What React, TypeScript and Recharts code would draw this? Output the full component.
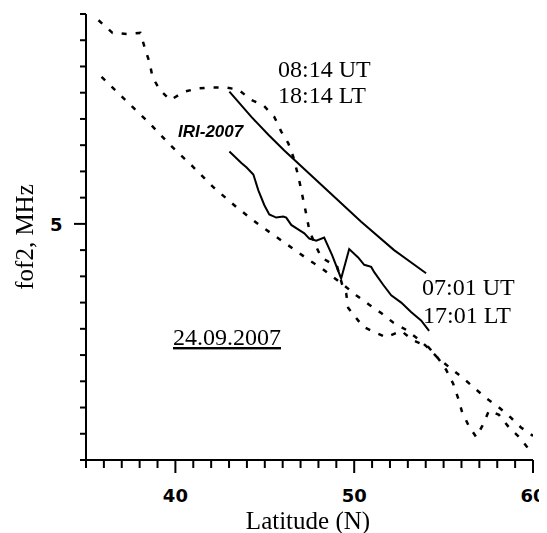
import React from 'react';
import { LineChart, Line, XAxis, YAxis } from 'recharts';

// latitude (deg N) / foF2 (MHz) profiles
const dashedUpperLat = [35.7, 36.48, 37.32, 38.04, 38.32, 38.55, 38.72, 39.11, 39.72, 40.5, 41.23, 42.07, 42.79, 43.52, 44.25, 44.92, 45.53, 45.92, 46.31, 46.59, 46.82, 46.98, 47.15, 47.32, 47.49, 47.77, 48.16, 49.05, 49.33, 49.55, 49.66, 50.5, 51.12, 51.79, 52.63, 53.3, 54.13, 54.69, 55.14, 55.53, 55.81, 56.03, 56.42, 56.82, 57.15, 57.54, 58.1, 58.66, 59.22, 59.83];
const dashedUpperFof2 = [6.94, 6.82, 6.81, 6.82, 6.66, 6.54, 6.4, 6.28, 6.18, 6.26, 6.29, 6.3, 6.3, 6.28, 6.18, 6.13, 6.02, 5.88, 5.77, 5.64, 5.49, 5.37, 5.23, 5.09, 4.94, 4.82, 4.68, 4.59, 4.42, 4.34, 4.2, 4.02, 3.97, 3.92, 3.98, 3.89, 3.83, 3.72, 3.61, 3.48, 3.34, 3.21, 3.07, 2.97, 3.07, 3.22, 3.18, 3.06, 2.97, 2.84];

const dashedLowerLat = [35.87, 37.32, 38.55, 39.72, 40.95, 42.12, 43.41, 44.69, 46.03, 47.43, 48.16, 49.39, 50.11, 50.84, 51.51, 52.18, 52.91, 53.52, 54.13, 54.69, 55.42, 56.09, 56.7, 57.37, 58.04, 58.72, 59.33, 60.0];
const dashedLowerFof2 = [6.4, 6.16, 5.96, 5.75, 5.55, 5.35, 5.16, 4.99, 4.83, 4.66, 4.58, 4.42, 4.32, 4.23, 4.15, 4.06, 3.99, 3.91, 3.82, 3.72, 3.62, 3.53, 3.44, 3.34, 3.26, 3.16, 3.06, 2.98];

const iriLat = [43.02, 44.25, 45.2, 46.09, 47.04, 48.55, 50.39, 52.23, 54.02];
const iriFof2 = [6.26, 6.02, 5.85, 5.7, 5.55, 5.31, 5.02, 4.75, 4.53];

const solidLowerLat = [43.02, 43.69, 43.97, 44.36, 44.64, 44.97, 45.25, 45.64, 46.03, 46.2, 46.48, 46.93, 47.21, 47.49, 47.88, 48.32, 48.77, 49.27, 49.72, 50.22, 50.56, 50.95, 51.12, 51.62, 52.07, 52.63, 53.18, 53.74, 54.19];
const solidLowerFof2 = [5.69, 5.58, 5.54, 5.47, 5.32, 5.18, 5.09, 5.06, 5.07, 5.06, 4.99, 4.94, 4.91, 4.86, 4.84, 4.87, 4.7, 4.48, 4.76, 4.68, 4.61, 4.59, 4.54, 4.42, 4.32, 4.25, 4.16, 4.08, 3.98];

const xTicks = [35, 36, 37, 38, 39, 40, 41, 42, 43, 44, 45, 46, 47, 48, 49, 50, 51, 52, 53, 54, 55, 56, 57, 58, 59, 60];
const xLabelled = [40, 50, 60];
const yTicks = [2.75, 3, 3.25, 3.5, 3.75, 4, 4.25, 4.5, 4.75, 5, 5.25, 5.5, 5.75, 6, 6.25, 6.5, 6.75, 7];
const yLabelled = [5];

const zip = (lat: number[], f: number[]) => lat.map((v, i) => ({ lat: v, f: f[i] }));

const W = 539;
const H = 517;
const SERIF = '"Liberation Serif", "Times New Roman", serif';
const SANS = '"DejaVu Sans", Arial, sans-serif';

const XTick = (props: any) => {
  const { x, y, payload } = props;
  const major = xLabelled.includes(payload.value);
  return (
    <g>
      <line x1={x} x2={x} y1={y} y2={y + (major ? 13 : 8)} stroke="#000" strokeWidth={2} />
      {major && (
        <text x={x} y={y + 42} textAnchor="middle" fontFamily={SANS} fontWeight="bold" fontSize={18} fill="#000">
          {payload.value}
        </text>
      )}
    </g>
  );
};

const YTick = (props: any) => {
  const { x, y, payload } = props;
  const major = yLabelled.includes(payload.value);
  return (
    <g>
      <line x1={x} x2={x - (major ? 12 : 6)} y1={y} y2={y} stroke="#000" strokeWidth={2} />
      {major && (
        <text x={x - 23.5} y={y + 7} textAnchor="end" fontFamily={SANS} fontWeight="bold" fontSize={18} fill="#000">
          {payload.value}
        </text>
      )}
    </g>
  );
};

const dashed = { stroke: '#000', strokeWidth: 2.5, strokeDasharray: '5 9' };
const solid = { stroke: '#000', strokeWidth: 2 };

export default function App() {
  return (
    <div style={{ width: W, height: H }}>
      <LineChart width={W} height={H} margin={{ top: 6, right: 14, left: 0, bottom: 0 }}>
        <XAxis
          type="number"
          dataKey="lat"
          domain={[35, 60]}
          ticks={xTicks}
          interval={0}
          height={65}
          tickSize={0}
          tickMargin={0}
          tickLine={false}
          tick={XTick}
          axisLine={{ stroke: '#000', strokeWidth: 2 }}
          allowDataOverflow
        />
        <YAxis
          type="number"
          dataKey="f"
          domain={[2.75, 7]}
          ticks={yTicks}
          interval={0}
          width={78}
          tickSize={0}
          tickMargin={0}
          tickLine={false}
          tick={YTick}
          axisLine={{ stroke: '#000', strokeWidth: 2 }}
          allowDataOverflow
        />
        <Line data={zip(dashedUpperLat, dashedUpperFof2)} dataKey="f" type="linear" dot={false} isAnimationActive={false} {...dashed} />
        <Line data={zip(dashedLowerLat, dashedLowerFof2)} dataKey="f" type="linear" dot={false} isAnimationActive={false} {...dashed} />
        <Line data={zip(iriLat, iriFof2)} dataKey="f" type="linear" dot={false} isAnimationActive={false} {...solid} />
        <Line data={zip(solidLowerLat, solidLowerFof2)} dataKey="f" type="linear" dot={false} isAnimationActive={false} {...solid} />
      </LineChart>
      {/* annotations and axis titles, laid out in window coordinates */}
      <svg width={547} height={533} style={{ position: 'fixed', left: 0, top: 0, pointerEvents: 'none' }}>
        <g fontFamily={SERIF} fontSize={24} fill="#000">
          <text x={278} y={77}>08:14 UT</text>
          <text x={278} y={103}>18:14 LT</text>
          <text x={422} y={295}>07:01 UT</text>
          <text x={423} y={323}>17:01 LT</text>
          <text x={173} y={345} textDecoration="underline">24.09.2007</text>
          <text x={308} y={529} textAnchor="middle" fontSize={25}>Latitude (N)</text>
          <text x={33} y={237} textAnchor="middle" fontSize={25} transform="rotate(-90 33 237)">fof2, MHz</text>
        </g>
        <text x={178} y={137} fontFamily='"Liberation Sans", Arial, sans-serif' fontWeight="bold" fontStyle="italic" fontSize={17} fill="#000">
          IRI-2007
        </text>
      </svg>
    </div>
  );
}
